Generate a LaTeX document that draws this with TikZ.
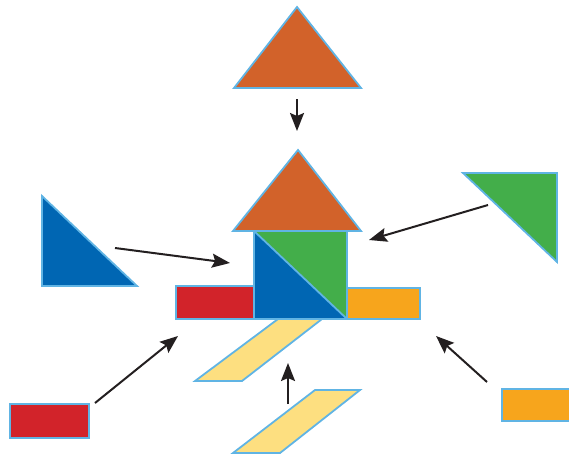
\documentclass[tikz,border=0pt]{standalone}
\usepackage{xcolor}
\usetikzlibrary{arrows.meta}

\definecolor{rust}{RGB}{210,98,42}
\definecolor{leaf}{RGB}{67,174,74}
\definecolor{royal}{RGB}{0,102,179}
\definecolor{brick}{RGB}{210,35,42}
\definecolor{amber}{RGB}{247,165,28}
\definecolor{straw}{RGB}{253,223,128}
\definecolor{edge}{RGB}{96,180,228}
\definecolor{ink}{RGB}{35,31,32}

\tikzset{
  piece/.style={draw=edge, line width=1.8pt, line join=miter},
  move/.style={draw=ink, line width=2pt, -{Stealth[length=18pt,width=14pt,inset=3pt]}}
}

\begin{document}
\begin{tikzpicture}[x=1pt,y=-1pt]
  \useasboundingbox (0,0) rectangle (569,455);
  % loose pieces
  \fill[rust] (234,88) -- (297,7) -- (361,88) -- cycle;
  \draw[piece] (234,88) -- (297,7) -- (361,88) -- cycle;
  \fill[royal] (42,196) -- (42,286) -- (137,286) -- cycle;
  \draw[piece] (42,196) -- (42,286) -- (137,286) -- cycle;
  \fill[leaf] (463,173) -- (557,173) -- (557,262) -- cycle;
  \draw[piece] (463,173) -- (557,173) -- (557,262) -- cycle;
  \fill[brick] (10,404) rectangle (89,438);
  \draw[piece] (10,404) rectangle (89,438);
  \fill[amber] (502,389) rectangle (572,421);
  \draw[piece] (502,389) rectangle (572,421);
  \fill[straw] (233,453) -- (280,453) -- (360,390) -- (315,390) -- cycle;
  \draw[piece] (233,453) -- (280,453) -- (360,390) -- (315,390) -- cycle;
  % house
  \fill[straw] (195,381) -- (242,381) -- (322,319) -- (278,319) -- cycle;
  \draw[piece] (195,381) -- (242,381) -- (322,319) -- (278,319) -- cycle;
  \fill[brick] (176,286) rectangle (254,319);
  \draw[piece] (176,286) rectangle (254,319);
  \fill[amber] (347,288) rectangle (420,319);
  \draw[piece] (347,288) rectangle (420,319);
  \fill[leaf] (254,231) -- (347,231) -- (347,319) -- cycle;
  \fill[royal] (254,231) -- (347,319) -- (254,319) -- cycle;
  \draw[piece] (254,231) rectangle (347,319);
  \draw[piece] (254,231) -- (347,319);
  \fill[rust] (233,231) -- (298,150) -- (361,231) -- cycle;
  \draw[piece] (233,231) -- (298,150) -- (361,231) -- cycle;
  % arrow ends
  \coordinate (roofA) at (297,99);
  \coordinate (roofB) at (297,131);
  \coordinate (blueA) at (115,248);
  \coordinate (blueB) at (230,263);
  \coordinate (greenA) at (488,205);
  \coordinate (greenB) at (369,240);
  \coordinate (redA) at (95,403);
  \coordinate (redB) at (178,336);
  \coordinate (amberA) at (487,382);
  \coordinate (amberB) at (436,336);
  \coordinate (strawA) at (288,404);
  \coordinate (strawB) at (288,363);
  \draw[move] (roofA) -- (roofB);
  \draw[move] (blueA) -- (blueB);
  \draw[move] (greenA) -- (greenB);
  \draw[move] (redA) -- (redB);
  \draw[move] (amberA) -- (amberB);
  \draw[move] (strawA) -- (strawB);
\end{tikzpicture}
\end{document}
